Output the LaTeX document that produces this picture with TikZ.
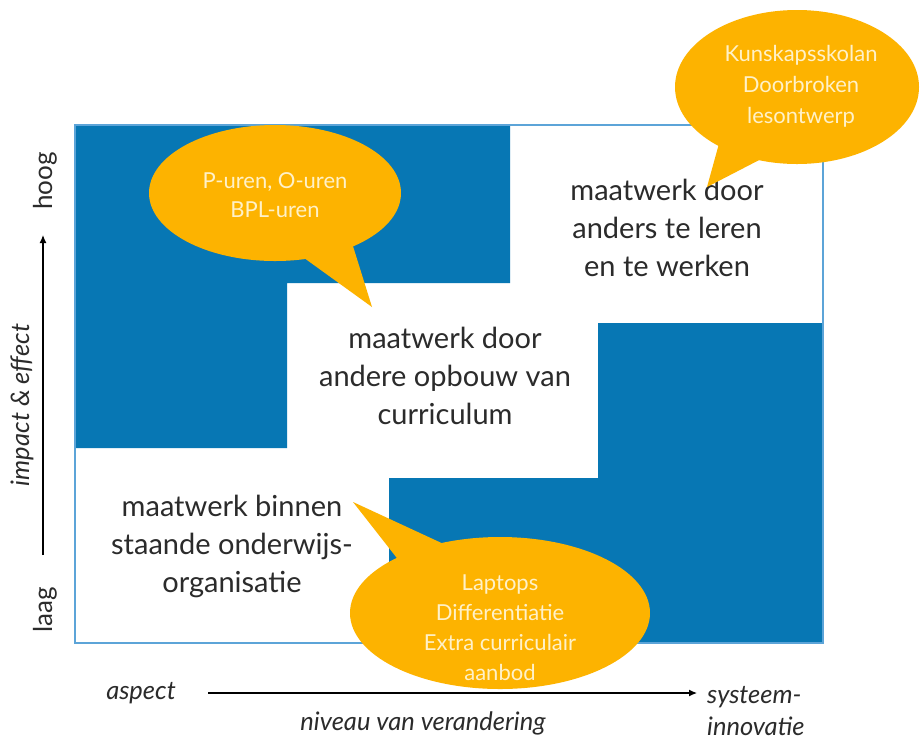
\documentclass[tikz,border=0pt]{standalone}
\usepackage{fontspec}
\setmainfont{Lato}
\usetikzlibrary{shapes.geometric,arrows.meta}
\definecolor{pblue}{HTML}{0777B4}
\definecolor{porange}{HTML}{FDB300}
\definecolor{pcream}{HTML}{FFF1C8}
\definecolor{pborder}{HTML}{5CA4D8}
\definecolor{ptext}{HTML}{2B2B2B}
\begin{document}
\begin{tikzpicture}[x=1pt,y=-1pt,
 blueblock/.style={fill=pblue},
 maintext/.style={align=center,text=ptext,inner sep=0pt,font=\fontsize{29}{38}\selectfont},
 bubble/.style={ellipse,fill=porange,inner sep=0pt},
 bubbletext/.style={align=center,text=pcream,inner sep=0pt,font=\fontsize{22}{30}\selectfont},
 axislabel/.style={text=ptext,inner sep=0pt,font=\itshape\fontsize{25.5}{32}\selectfont},
 endlabel/.style={text=ptext,inner sep=0pt,font=\fontsize{26}{26}\selectfont},
 axisarrow/.style={-{Latex[length=8pt,width=7pt]},line width=1.2pt,draw=black}]
\useasboundingbox (0,0) rectangle (920,740);
\fill[white] (0,0) rectangle (920,740);
% blue blocks
\fill[blueblock] (75,125) -- (510,125) -- (510,283) -- (287,283) -- (287,448) -- (75,448) -- cycle;
\fill[blueblock] (598,323) -- (823,323) -- (823,643) -- (389,643) -- (389,478) -- (598,478) -- cycle;
\draw[pborder, line width=1.5pt] (75,125) rectangle (823,643);
% main texts
\node[maintext] (t3) at (667,228) {maatwerk door\\anders te leren\\en te werken};
\node[maintext] (t2) at (445,376) {maatwerk door\\andere opbouw van\\curriculum};
\node[maintext] (t1) at (232,546) {maatwerk binnen\\staande onderwijs-\\organisatie};
% bubble 1
\coordinate (b1a) at (300,255);
\coordinate (b1b) at (352,243);
\coordinate (b1tip) at (372,307);
\fill[porange] (b1a) -- (b1tip) -- (b1b) -- cycle;
\node[bubble,minimum width=252pt,minimum height=136pt] (b1) at (275,193) {};
\node[bubbletext,font=\fontsize{22}{29}\selectfont] (b1t) at (275,195) {P-uren, O-uren\\BPL-uren};
% bubble 2
\coordinate (b2a) at (720,140);
\coordinate (b2b) at (765,157);
\coordinate (b2tip) at (707,187);
\fill[porange] (b2a) -- (b2tip) -- (b2b) -- cycle;
\node[bubble,minimum width=244pt,minimum height=154pt] (b2) at (797,87) {};
\node[bubbletext,font=\fontsize{22}{31}\selectfont] (b2t) at (801,86) {Kunskapsskolan\\Doorbroken\\lesontwerp};
% bubble 3
\coordinate (b3a) at (400,562);
\coordinate (b3b) at (448,546);
\coordinate (b3tip) at (353,502);
\fill[porange] (b3a) -- (b3tip) -- (b3b) -- cycle;
\node[bubble,minimum width=300pt,minimum height=152pt] (b3) at (500,613) {};
\node[bubbletext] (b3t) at (500,628) {Laptops\\Differentiatie\\Extra curriculair\\aanbod};
% vertical axis
\coordinate (vlow) at (43,555);
\coordinate (vhigh) at (43,235);
\draw[axisarrow] (vlow) -- (vhigh);
\node[endlabel,rotate=90] (hoog) at (45,181) {hoog};
\node[endlabel,rotate=90] (laag) at (45,610) {laag};
\node[axislabel,rotate=90] (impact) at (22,405) {impact \& effect};
% horizontal axis
\coordinate (hlow) at (208,693);
\coordinate (hhigh) at (697,693);
\draw[axisarrow] (hlow) -- (hhigh);
\node[axislabel] (aspect) at (141,693) {aspect};
\node[axislabel] (niveau) at (423,723) {niveau van verandering};
\node[axislabel,align=left,anchor=west] (systeem) at (707,711) {systeem-\\innovatie};
\end{tikzpicture}
\end{document}
